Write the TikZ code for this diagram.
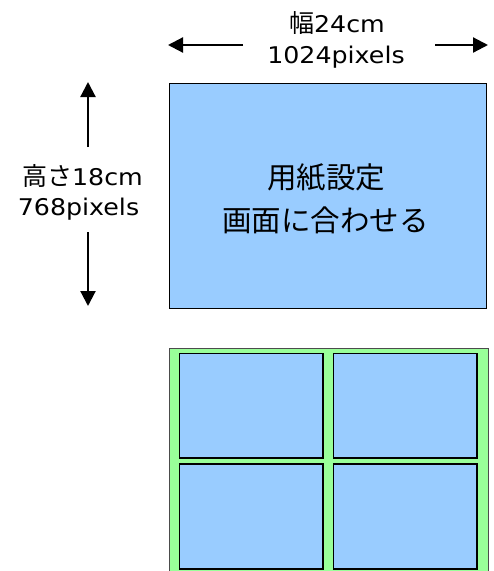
\documentclass[tikz,border=0pt]{standalone}
\usepackage{fontspec}
\setmainfont{Noto Sans CJK JP}
\newfontfamily\latfont[FakeStretch=1.1]{DejaVu Sans}
\usetikzlibrary{arrows.meta}
\definecolor{paperblue}{HTML}{99CCFF}
\definecolor{framegreen}{HTML}{99FF99}
\begin{document}
\begin{tikzpicture}[x=1pt,y=-1pt,
  lbl/.style={font=\fontsize{25}{30}\selectfont, inner sep=0pt, anchor=base},
  big/.style={font=\fontsize{29.5}{36}\selectfont, inner sep=0pt, anchor=base},
  dimarrow/.style={-{Triangle[length=15pt,width=15pt]}, line width=2.2pt},
  panel/.style={draw=black, fill=paperblue, line width=1.4pt},
]
\useasboundingbox (0,0) rectangle (494,571);
% top blue sheet
\node[draw=black, fill=paperblue, line width=0.9pt, minimum width=317pt, minimum height=225pt, anchor=north west, inner sep=0pt] (sheet) at (168.5,83) {};
\node[big] (title1) at (326,188) {用紙設定};
\node[big] (title2) at (325.5,231) {画面に合わせる};
% width label
\node[lbl] (wlabel1) at (337,32) {幅{\latfont\fontsize{23}{28}\selectfont 24cm}};
\node[lbl] (wlabel2) at (336,63) {\latfont\fontsize{23}{28}\selectfont 1024pixels};
\coordinate (wl0) at (243,45);
\coordinate (wl1) at (168,45);
\coordinate (wr0) at (435,45);
\coordinate (wr1) at (488,45);
\draw[dimarrow] (wl0) -- (wl1);
\draw[dimarrow] (wr0) -- (wr1);
% height label
\node[lbl] (hlabel1) at (82.5,185) {高さ{\latfont\fontsize{23}{28}\selectfont 18cm}};
\node[lbl] (hlabel2) at (78.5,215) {\latfont\fontsize{23}{28}\selectfont 768pixels};
\coordinate (hu0) at (88,147);
\coordinate (hu1) at (88,82);
\coordinate (hd0) at (88,232);
\coordinate (hd1) at (88,306);
\draw[dimarrow] (hu0) -- (hu1);
\draw[dimarrow] (hd0) -- (hd1);
% bottom green frame with four panels
\draw[draw=black!70, fill=framegreen, line width=0.9pt] (169,348) rectangle (488,580);
\draw[panel] (179.5,353.5) rectangle (323,458);
\draw[panel] (333.5,353.5) rectangle (477,458);
\draw[panel] (179.5,464) rectangle (323,569);
\draw[panel] (333.5,464) rectangle (477,569);
\end{tikzpicture}
\end{document}
